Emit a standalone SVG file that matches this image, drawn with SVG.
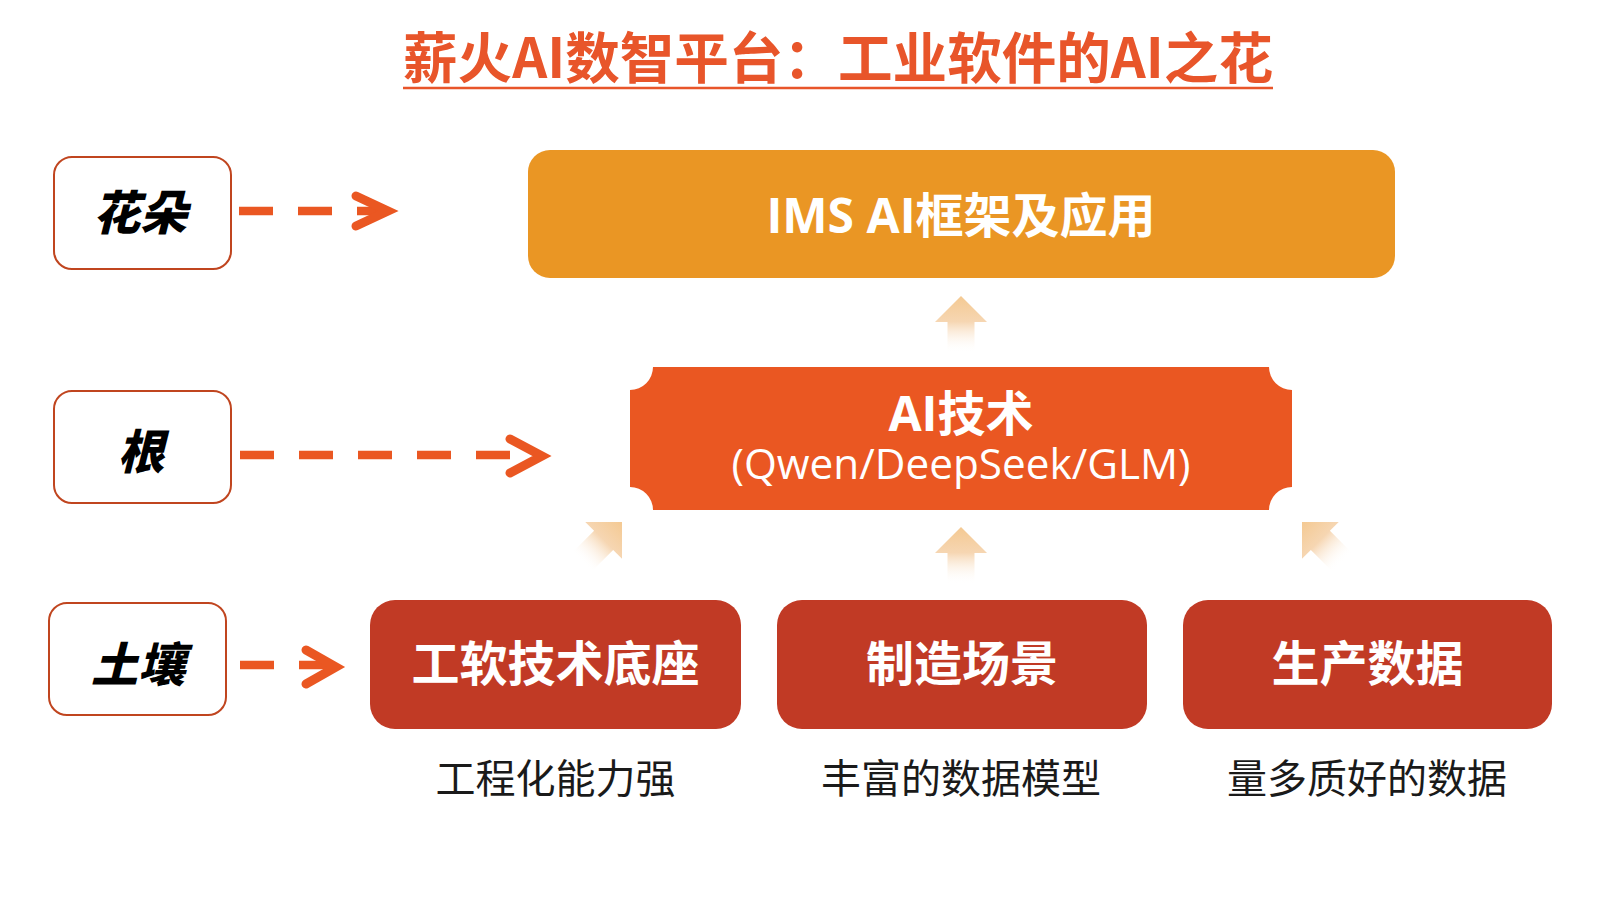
<svg xmlns="http://www.w3.org/2000/svg" width="1600" height="898" viewBox="0 0 1600 898">
  <style>
    .cjk { font-family: "Noto Sans CJK SC", "Noto Sans", sans-serif; }
    .lat { font-family: "Open Sans", "Noto Sans CJK SC", sans-serif; }
    .title { font-size: 55px; font-weight: 700; fill: #E8552A; }
    .lbox { fill: #FFFFFF; stroke: #C0451F; stroke-width: 2; }
    .ltext { font-size: 47px; font-weight: 900; font-style: italic; fill: #000000; }
    .btext { font-size: 48px; font-weight: 700; fill: #FFFFFF; }
    .sub { font-size: 40px; font-weight: 400; fill: #1A1A1A; }
    .dash { fill: none; stroke: #EA5722; stroke-width: 8.5; stroke-dasharray: 34 25; }
    .chev { fill: none; stroke: #EA5722; stroke-width: 9; stroke-linecap: round; stroke-linejoin: miter; }
    .up { fill: url(#upGrad); }
  </style>
  <defs>
    <linearGradient id="upGrad" x1="0" y1="0" x2="0" y2="1">
      <stop offset="0" stop-color="#F4C992"/>
      <stop offset="0.45" stop-color="#F6D6B2"/>
      <stop offset="1" stop-color="#FFFFFF" stop-opacity="0"/>
    </linearGradient>
    <polygon id="upArrow" points="0,0 26,26 13.5,26 13.5,57 -13.5,57 -13.5,26 -26,26"/>
  </defs>

  <rect width="1600" height="898" fill="#FFFFFF"/>

  <g id="title">
    <text class="cjk title" x="838" y="78" text-anchor="middle" textLength="870" lengthAdjust="spacingAndGlyphs">薪火AI数智平台：工业软件的AI之花</text>
    <line x1="403" y1="88" x2="1273" y2="88" stroke="#E8552A" stroke-width="2.5"/>
  </g>

  <g id="label-flower">
    <rect class="lbox" x="54" y="157" width="177" height="112" rx="18"/>
    <text class="cjk ltext" x="140" y="230" text-anchor="middle">花朵</text>
  </g>
  <g id="label-root">
    <rect class="lbox" x="54" y="391" width="177" height="112" rx="18"/>
    <text class="cjk ltext" x="141" y="469" text-anchor="middle">根</text>
  </g>
  <g id="label-soil">
    <rect class="lbox" x="49" y="603" width="177" height="112" rx="18"/>
    <text class="cjk ltext" x="138" y="682" text-anchor="middle">土壤</text>
  </g>

  <g id="node-ims">
    <rect x="528" y="150" width="867" height="128" rx="22" fill="#EA9624"/>
    <text class="lat btext" x="961" y="233" text-anchor="middle">IMS AI框架及应用</text>
  </g>

  <g id="node-ai">
    <path d="M 653 367 H 1269 A 23 23 0 0 0 1292 390 V 487 A 23 23 0 0 0 1269 510 H 653 A 23 23 0 0 0 630 487 V 390 A 23 23 0 0 0 653 367 Z" fill="#EA5722"/>
    <text class="lat btext" x="961" y="431" text-anchor="middle">AI技术</text>
    <text class="lat" x="961" y="479" text-anchor="middle" font-size="42" fill="#FFFFFF" textLength="459" lengthAdjust="spacingAndGlyphs">(Qwen/DeepSeek/GLM)</text>
  </g>

  <g id="node-software">
    <rect x="370" y="600" width="371" height="129" rx="25" fill="#C13A25"/>
    <text class="cjk btext" x="555.5" y="681" text-anchor="middle">工软技术底座</text>
    <text class="cjk sub" x="555.5" y="793" text-anchor="middle">工程化能力强</text>
  </g>
  <g id="node-scene">
    <rect x="777" y="600" width="370" height="129" rx="25" fill="#C13A25"/>
    <text class="cjk btext" x="962" y="681" text-anchor="middle">制造场景</text>
    <text class="cjk sub" x="961" y="793" text-anchor="middle">丰富的数据模型</text>
  </g>
  <g id="node-data">
    <rect x="1183" y="600" width="369" height="129" rx="25" fill="#C13A25"/>
    <text class="cjk btext" x="1367.5" y="681" text-anchor="middle">生产数据</text>
    <text class="cjk sub" x="1367" y="793" text-anchor="middle">量多质好的数据</text>
  </g>

  <g id="connectors">
    <path class="dash" d="M 239 211 H 388"/>
    <polyline class="chev" points="356,196 388,211 356,226"/>
    <path class="dash" d="M 240 455 H 540"/>
    <polyline class="chev" points="510,439 542,456 510,473"/>
    <path class="dash" d="M 240 665 H 334"/>
    <polyline class="chev" points="306,650 336,667 306,684"/>

    <use href="#upArrow" class="up" transform="translate(961,296)"/>
    <use href="#upArrow" class="up" transform="translate(961,527)"/>
    <use href="#upArrow" class="up" transform="translate(622,522) rotate(45)"/>
    <use href="#upArrow" class="up" transform="translate(1302,522) rotate(-45)"/>
  </g>
</svg>
